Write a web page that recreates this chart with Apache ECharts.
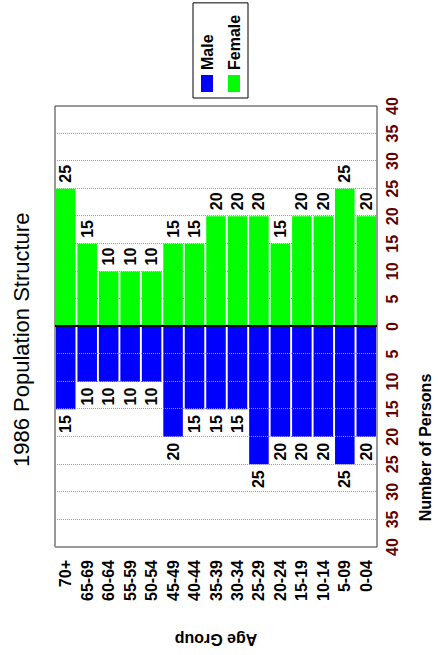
<!DOCTYPE html>
<html>
<head>
<meta charset="utf-8">
<script src="https://cdn.jsdelivr.net/npm/echarts@6/dist/echarts.min.js"></script>
<style>
  html, body { margin: 0; padding: 0; overflow: hidden; background: #fff; }
  /* the chart is laid out as a normal pyramid, then turned a quarter turn left */
  #chart {
    position: absolute;
    left: 0;
    top: 0;
    width: 655px;
    height: 438px;
    transform-origin: 0 0;
    transform: translate(0, 655px) rotate(-90deg);
  }
</style>
</head>
<body>
<div id="chart"></div>
<script>
var ageGroups = ["70+", "65-69", "60-64", "55-59", "50-54", "45-49", "40-44", "35-39",
  "30-34", "25-29", "20-24", "15-19", "10-14", "5-09", "0-04"];
var male = [15, 10, 10, 10, 10, 20, 15, 15, 15, 25, 20, 20, 20, 25, 20];
var female = [25, 15, 10, 10, 10, 15, 15, 20, 20, 20, 15, 20, 20, 25, 20];
var personTicks = { min: -40, max: 40, step: 5 };

var font = "Liberation Sans, Arial, sans-serif";

var chart = echarts.init(document.getElementById("chart"), null, { renderer: "svg" });

chart.setOption({
  animation: false,
  title: {
    text: "1986 Population Structure",
    left: 183,
    top: 5,
    textStyle: { fontFamily: font, fontSize: 22, fontWeight: "normal", color: "#000" }
  },
  legend: {
    data: ["Male", "Female"],
    orient: "vertical",
    left: 557,
    top: 193,
    icon: "rect",
    itemWidth: 17,
    itemHeight: 12,
    itemGap: 11,
    padding: [6, 12, 6, 6],
    borderColor: "#000",
    borderWidth: 1,
    textStyle: { fontFamily: font, fontSize: 16, fontWeight: "bold", color: "#000", lineHeight: 16 }
  },
  grid: {
    left: 101,
    right: 106,
    top: 55,
    bottom: 52,
    show: true,
    borderColor: "#333",
    borderWidth: 1
  },
  xAxis: {
    type: "value",
    min: personTicks.min,
    max: personTicks.max,
    interval: personTicks.step,
    z: 3,
    name: "Number of Persons",
    nameLocation: "middle",
    nameGap: 40,
    nameTextStyle: { fontFamily: font, fontSize: 16, fontWeight: "bold", color: "#000", padding: [0, 242, 0, 0] },
    axisLine: { show: false },
    axisTick: { show: false },
    axisLabel: {
      margin: 7,
      fontFamily: font,
      fontSize: 16,
      fontWeight: "bold",
      color: "#620000",
      formatter: function (v) { return Math.abs(v); }
    },
    splitLine: { show: true, lineStyle: { color: "#9a9a9a", type: "dotted", width: 1 } }
  },
  yAxis: {
    type: "category",
    data: ageGroups,
    inverse: true,
    name: "Age Group",
    nameLocation: "middle",
    nameRotate: 90,
    nameGap: 84,
    nameTextStyle: { fontFamily: font, fontSize: 16, fontWeight: "bold", color: "#000" },
    axisLine: { show: false },
    axisTick: { show: false },
    axisLabel: { margin: 13, fontFamily: font, fontSize: 16, fontWeight: "bold", color: "#000" },
    splitLine: { show: false }
  },
  series: [
    {
      name: "Male",
      type: "bar",
      data: male.map(function (v) { return -v; }),
      barCategoryGap: "9%",
      barGap: "-100%",
      itemStyle: { color: "#0000ff" },
      label: {
        show: true,
        position: "left",
        distance: 6,
        fontFamily: font,
        fontSize: 16,
        fontWeight: "bold",
        color: "#000",
        formatter: function (p) { return Math.abs(p.value); }
      },
      markLine: {
        silent: true,
        symbol: "none",
        label: { show: false },
        lineStyle: { color: "#000", width: 2, type: "solid" },
        data: [{ xAxis: 0 }]
      }
    },
    {
      name: "Female",
      type: "bar",
      data: female,
      barCategoryGap: "9%",
      barGap: "-100%",
      itemStyle: { color: "#00ff00" },
      label: {
        show: true,
        position: "right",
        distance: 6,
        fontFamily: font,
        fontSize: 16,
        fontWeight: "bold",
        color: "#000"
      }
    }
  ]
});
</script>
</body>
</html>
